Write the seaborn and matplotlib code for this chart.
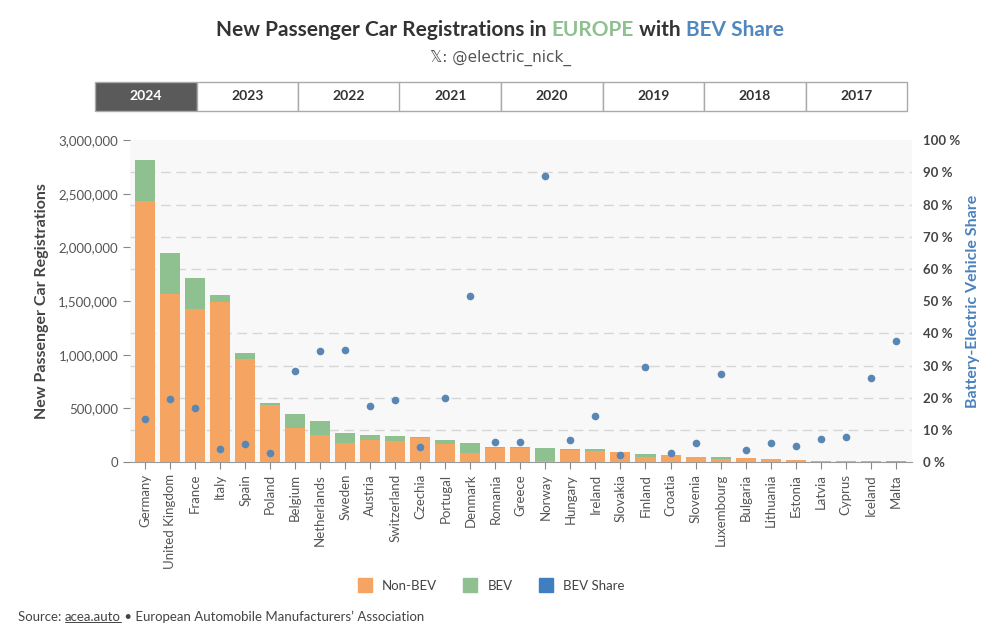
import numpy as np
import pandas as pd
import matplotlib
matplotlib.use("Agg")
import matplotlib.pyplot as plt
from matplotlib.patches import Rectangle
from matplotlib.lines import Line2D
from matplotlib.ticker import FuncFormatter, MultipleLocator
import seaborn as sns

# ---------------------------------------------------------------------------
# Data (2024)
# ---------------------------------------------------------------------------
countries = [
    "Germany", "United Kingdom", "France", "Italy", "Spain", "Poland",
    "Belgium", "Netherlands", "Sweden", "Austria", "Switzerland", "Czechia",
    "Portugal", "Denmark", "Romania", "Greece", "Norway", "Hungary",
    "Ireland", "Slovakia", "Finland", "Croatia", "Slovenia", "Luxembourg",
    "Bulgaria", "Lithuania", "Estonia", "Latvia", "Cyprus", "Iceland", "Malta",
]
non_bev = [
    2437000, 1571000, 1427000, 1493000, 960000, 532000,
    320000, 248000, 176000, 209000, 193000, 220000,
    167000, 84000, 134000, 129000, 14000, 113000,
    101000, 90000, 50000, 62000, 45000, 32000,
    38500, 26400, 19000, 13000, 10600, 6300, 3400,
]
bev = [
    380000, 382000, 291000, 66000, 56000, 19000,
    128000, 132000, 94000, 45000, 46000, 10500,
    41500, 89500, 9000, 8700, 114500, 8200,
    16900, 2100, 20900, 1700, 2800, 12000,
    1500, 1600, 1000, 1000, 900, 2200, 2100,
]
bev_share = [
    13.5, 19.6, 16.9, 4.1, 5.6, 2.9,
    28.4, 34.6, 34.9, 17.5, 19.2, 4.6,
    19.9, 51.5, 6.3, 6.3, 88.9, 6.8,
    14.3, 2.3, 29.5, 2.7, 5.8, 27.3,
    3.7, 5.8, 5.1, 7.1, 7.8, 26.0, 37.6,
]
years = ["2024", "2023", "2022", "2021", "2020", "2019", "2018", "2017"]

COLOR_NONBEV = "#f5a462"
COLOR_BEV = "#8fc08f"
COLOR_SHARE = "#5a86b4"
COLOR_SHARE_LEGEND = "#3f7fbf"
COLOR_TEXT = "#333333"

df = pd.DataFrame({
    "country": countries,
    "non_bev": non_bev,
    "bev": bev,
    "share": bev_share,
})
df["total"] = df["non_bev"] + df["bev"]

# ---------------------------------------------------------------------------
# Style
# ---------------------------------------------------------------------------
sns.set_theme(style="white")
plt.rcParams["font.family"] = ["Lato", "DejaVu Sans"]

fig = plt.figure(figsize=(10, 6.4), dpi=100)
ax = fig.add_axes([0.130, 0.278, 0.782, 0.503])
ax.set_facecolor("#f8f8f8")

# stacked bars: total (green) underneath, non-BEV (orange) on top
sns.barplot(data=df, x="country", y="total", color=COLOR_BEV, width=0.8,
            saturation=1, linewidth=0, ax=ax, zorder=2)
sns.barplot(data=df, x="country", y="non_bev", color=COLOR_NONBEV, width=0.8,
            saturation=1, linewidth=0, ax=ax, zorder=3)

ax.set_ylim(0, 3_000_000)
ax.set_xlim(-0.6, len(countries) - 0.35)
ax.yaxis.set_major_locator(MultipleLocator(500_000))
ax.yaxis.set_minor_locator(MultipleLocator(300_000))
ax.yaxis.set_major_formatter(FuncFormatter(lambda v, p: f"{int(v):,}"))
ax.tick_params(axis="y", which="major", labelsize=9.5, colors="#888888",
               length=5, width=0.8, left=True, labelcolor="#555555")
ax.tick_params(axis="y", which="minor", length=0)
ax.tick_params(axis="x", labelsize=9.5, labelrotation=90, length=5, width=0.8,
               bottom=True, colors="#888888", labelcolor="#555555")
# dashed grid follows the 10 % steps of the share axis
ax.grid(axis="y", which="minor", linestyle=(0, (7, 4)), color="#d6d6d6",
        linewidth=1)
ax.set_axisbelow(True)
ax.set_xlabel("")
ax.set_ylabel("New Passenger Car Registrations", fontsize=11.5,
              fontweight="bold", color="#444444", labelpad=7)
for s in ["top", "right", "left"]:
    ax.spines[s].set_visible(False)
ax.spines["bottom"].set_color("#999999")
ax.spines["bottom"].set_linewidth(0.8)

# BEV share on secondary axis
ax2 = ax.twinx()
sns.stripplot(data=df, x="country", y="share", color=COLOR_SHARE, size=5.5,
              jitter=False, ax=ax2, zorder=4)
ax2.set_ylim(0, 100)
ax2.set_xlim(-0.6, len(countries) - 0.35)
ax2.yaxis.set_major_locator(MultipleLocator(10))
ax2.yaxis.set_major_formatter(FuncFormatter(lambda v, p: f"{int(v)} %"))
ax2.tick_params(axis="y", labelsize=9.5, length=0, pad=8, labelcolor="#444444")
for lbl in ax2.get_yticklabels():
    lbl.set_fontweight("bold")
ax2.grid(False)
ax2.set_ylabel("Battery-Electric Vehicle Share", fontsize=11.5,
               fontweight="bold", color="#4a82bb", labelpad=4)
ax2.set_xlabel("")
for s in ax2.spines.values():
    s.set_visible(False)

# ---------------------------------------------------------------------------
# Title, subtitle, year tabs
# ---------------------------------------------------------------------------
title_y = 1 - 30 / 640
t1 = fig.text(0.217, title_y, "New Passenger Car Registrations in ", fontsize=15,
              fontweight="bold", color=COLOR_TEXT, va="center", ha="left")
fig.canvas.draw()
r = fig.canvas.get_renderer()


def append_text(prev, s, color):
    bb = prev.get_window_extent(renderer=r)
    x = bb.x1 / fig.bbox.width
    return fig.text(x, title_y, s, fontsize=15, fontweight="bold", color=color,
                    va="center", ha="left")


t2 = append_text(t1, "EUROPE", COLOR_BEV)
t3 = append_text(t2, " with ", COLOR_TEXT)
t4 = append_text(t3, "BEV Share", "#5088be")
# recenter the title
bb_first = t1.get_window_extent(renderer=r)
bb_last = t4.get_window_extent(renderer=r)
shift = (500 - (bb_first.x0 + bb_last.x1) / 2) / fig.bbox.width
for t in (t1, t2, t3, t4):
    x, y = t.get_position()
    t.set_position((x + shift, y))

fig.text(0.5, 1 - 58 / 640, "\U0001D54F: @electric_nick_", fontsize=11,
         color="#555555", ha="center", va="center",
         family=["DejaVu Sans", "Lato"])

tab_x0, tab_x1 = 95 / 1000, 907 / 1000
tab_y0, tab_y1 = 1 - 111 / 640, 1 - 82 / 640
tab_w = (tab_x1 - tab_x0) / len(years)
for i, yr in enumerate(years):
    active = i == 0
    fig.add_artist(Rectangle((tab_x0 + i * tab_w, tab_y0), tab_w, tab_y1 - tab_y0,
                             transform=fig.transFigure,
                             facecolor="#5a5a5a" if active else "white",
                             edgecolor="#aaaaaa", linewidth=1))
    fig.text(tab_x0 + (i + 0.5) * tab_w, (tab_y0 + tab_y1) / 2, yr,
             fontsize=10, fontweight="bold",
             color="white" if active else COLOR_TEXT,
             ha="center", va="center")

# ---------------------------------------------------------------------------
# Legend and source
# ---------------------------------------------------------------------------
handles = [
    Line2D([], [], marker="s", linestyle="", markersize=10,
           markerfacecolor=COLOR_NONBEV, markeredgecolor=COLOR_NONBEV),
    Line2D([], [], marker="s", linestyle="", markersize=10,
           markerfacecolor=COLOR_BEV, markeredgecolor=COLOR_BEV),
    Line2D([], [], marker="s", linestyle="", markersize=10,
           markerfacecolor=COLOR_SHARE_LEGEND, markeredgecolor=COLOR_SHARE_LEGEND),
]
fig.legend(handles, ["Non-BEV", "BEV", "BEV Share"], loc="center",
           bbox_to_anchor=(0.488, 1 - 586 / 640), ncol=3, frameon=False,
           fontsize=9.5, handletextpad=0.3, columnspacing=1.5,
           labelcolor="#444444")

src_y = 1 - 617 / 640
s1 = fig.text(18 / 1000, src_y, "Source: ", fontsize=9.5, color="#444444",
              va="center", ha="left")
fig.canvas.draw()
bb = s1.get_window_extent(renderer=r)
s2 = fig.text(bb.x1 / 1000, src_y, "acea.auto", fontsize=9.5, color="#444444",
              va="center", ha="left")
fig.canvas.draw()
bb2 = s2.get_window_extent(renderer=r)
fig.add_artist(Line2D([bb2.x0 / 1000, bb2.x1 / 1000],
                      [bb2.y0 / 640 + 0.001, bb2.y0 / 640 + 0.001],
                      transform=fig.transFigure, color="#444444", linewidth=0.7))
fig.text(bb2.x1 / 1000, src_y,
         " \u2022 European Automobile Manufacturers\u2019 Association",
         fontsize=9.5, color="#444444", va="center", ha="left")

fig.savefig("out.png", dpi=100, facecolor="white")
